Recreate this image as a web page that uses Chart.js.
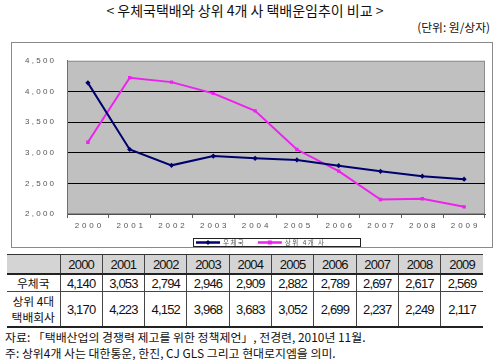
<!DOCTYPE html>
<html><head><meta charset="utf-8">
<script src="https://cdn.jsdelivr.net/npm/chart.js@4.4.1/dist/chart.umd.min.js"></script>
<style>
html,body{margin:0;padding:0;background:#fff;}
body{width:500px;height:360px;position:relative;overflow:hidden;font-family:"Noto Sans CJK KR",sans-serif;color:#111;}
#title{position:absolute;left:0;width:490px;top:1px;text-align:center;font-size:14px;line-height:18px;}
#unit{position:absolute;right:10px;top:19px;font-size:11.8px;line-height:16px;}
#chartBox{position:absolute;left:11px;top:42px;width:480px;height:204px;border:1px solid #8a8a8a;}
#chartBox canvas{display:block;}
#tbl{position:absolute;left:7px;top:254px;border-collapse:collapse;table-layout:fixed;width:476px;}
#tbl td{padding:0;text-align:center;border-left:1px solid #444;font-family:"Liberation Sans","Noto Sans CJK KR",sans-serif;font-size:13px;letter-spacing:-0.8px;color:#111;}
#tbl td.lab{border-left:none;font-family:"Noto Sans CJK KR",sans-serif;font-size:11.8px;letter-spacing:0;line-height:16px;}
#tbl tr.head td{background:#d4d4d4;height:18px;border-top:1px solid #333;border-bottom:2px solid #222;}
#tbl tr.r1 td{height:16px;border-bottom:1px solid #444;}
#tbl tr.r2 td{height:34px;border-bottom:2px solid #222;}
#notes{position:absolute;left:5px;top:329px;font-size:11.9px;line-height:15.5px;color:#111;}
</style></head>
<body>
<div id="title">&lt; 우체국택배와 상위 4개 사 택배운임추이 비교 &gt;</div>
<div id="unit">(단위: 원/상자)</div>
<div id="chartBox"><canvas id="c" width="480" height="204"></canvas></div>
<table id="tbl"><colgroup><col style="width:53px"></colgroup></table>
<div id="notes">자료: 「택배산업의 경쟁력 제고를 위한 정책제언」, 전경련, 2010년 11월.<br>주: 상위4개 사는 대한통운, 한진, CJ GLS 그리고 현대로지엠을 의미.</div>
<script>
const categories = ['2000','2001','2002','2003','2004','2005','2006','2007','2008','2009'];
const postOffice = [4140, 3053, 2794, 2946, 2909, 2882, 2789, 2697, 2617, 2569];
const top4 = [3170, 4223, 4152, 3968, 3683, 3052, 2699, 2237, 2249, 2117];
const seriesNames = ['우체국', '상위 4개 사'];
const tableRowNames = ['우체국', '상위 4대<br>택배회사'];
const yMin = 2000, yMax = 4500, yStep = 500;

const spaced = (s, sep) => String(s).split('').join(sep || ' ');
const fmt = v => v.toLocaleString('en-US');

// table
(function(){
  const t = document.getElementById('tbl');
  const cg = t.querySelector('colgroup');
  categories.forEach(()=>{ const c=document.createElement('col'); c.style.width='42.3px'; cg.appendChild(c); });
  let h = '<tr class="head"><td class="lab"></td>' + categories.map(c=>'<td>'+c+'</td>').join('') + '</tr>';
  h += '<tr class="r1"><td class="lab">'+tableRowNames[0]+'</td>' + postOffice.map(v=>'<td>'+fmt(v)+'</td>').join('') + '</tr>';
  h += '<tr class="r2"><td class="lab">'+tableRowNames[1]+'</td>' + top4.map(v=>'<td>'+fmt(v)+'</td>').join('') + '</tr>';
  t.insertAdjacentHTML('beforeend', h);
})();

const plotBg = {
  id:'plotBg',
  beforeDraw(chart){
    const {ctx, chartArea:a} = chart;
    ctx.save();
    ctx.fillStyle = '#c0c0c0';
    ctx.fillRect(a.left, a.top, a.right-a.left, a.bottom-a.top);
    ctx.strokeStyle = '#8c8c8c'; ctx.lineWidth = 1;
    ctx.strokeRect(a.left+0.5, a.top+0.5, a.right-a.left-1, a.bottom-a.top-1);
    ctx.restore();
  }
};

const boxLegend = {
  id:'boxLegend',
  afterDraw(chart){
    const ctx = chart.ctx;
    const x0 = 181, y0 = 195, w = 167, h = 8;
    ctx.save();
    ctx.strokeStyle = '#222'; ctx.lineWidth = 1;
    ctx.strokeRect(x0+0.5, y0+0.5, w, h);
    const cy = y0 + h/2 + 0.5;
    ctx.font = '6.5px "Noto Sans CJK KR", sans-serif';
    ctx.textBaseline = 'middle';
    let x = x0 + 3;
    chart.data.datasets.forEach((ds, i) => {
      const len = 24;
      ctx.strokeStyle = ds.borderColor; ctx.lineWidth = 2.5;
      ctx.beginPath(); ctx.moveTo(x, cy); ctx.lineTo(x+len, cy); ctx.stroke();
      ctx.fillStyle = ds.borderColor;
      const mx = x + len/2;
      if (ds.pointStyle === 'rectRot') {
        ctx.beginPath(); ctx.moveTo(mx, cy-2.5); ctx.lineTo(mx+2.5, cy); ctx.lineTo(mx, cy+2.5); ctx.lineTo(mx-2.5, cy); ctx.closePath(); ctx.fill();
      } else {
        ctx.fillRect(mx-2, cy-2, 4, 4);
      }
      x += len + 3;
      ctx.fillStyle = '#555';
      const txt = ds.label.split('').join(' ');
      ctx.fillText(txt, x, cy);
      x += ctx.measureText(txt).width + 14;
    });
    ctx.restore();
  }
};

new Chart(document.getElementById('c'), {
  type: 'line',
  data: {
    labels: categories,
    datasets: [
      {label: seriesNames[0], data: postOffice, borderColor: '#00006e', backgroundColor: '#00006e', borderWidth: 2,
       pointStyle: 'rectRot', pointRadius: 2.6, pointBorderWidth: 0, tension: 0},
      {label: seriesNames[1], data: top4, borderColor: '#ee22ee', backgroundColor: '#ee22ee', borderWidth: 2,
       pointStyle: 'rect', pointRadius: 2.4, pointBorderWidth: 0, tension: 0}
    ]
  },
  options: {
    responsive: false, animation: false, devicePixelRatio: 1,
    layout: {padding: {top: 9, right: 7, left: 0, bottom: 0}},
    plugins: {legend: {display: false}, tooltip: {enabled: false}},
    scales: {
      x: {
        offset: true,
        grid: {offset: true, drawOnChartArea: false, tickLength: 4, color: '#606060'},
        border: {color: '#505050'},
        ticks: {padding: 3, maxRotation: 0, autoSkip: false, color: '#555',
                font: {family: 'Liberation Sans', size: 8},
                callback: (v, i) => spaced(categories[i], ' \u200a')},
        afterFit: s => { s.height = 33; }
      },
      y: {
        min: yMin, max: yMax,
        ticks: {stepSize: yStep, padding: 13, color: '#555',
                font: {family: 'Liberation Sans', size: 8},
                callback: v => spaced(fmt(v))},
        grid: {drawTicks: false, color: c => (c.tick && c.tick.value > yMin && c.tick.value < yMax) ? '#000' : 'rgba(0,0,0,0)'},
        border: {color: '#707070'},
        afterFit: s => { s.width = 55; }
      }
    }
  },
  plugins: [plotBg, boxLegend]
});
</script>
</body></html>
